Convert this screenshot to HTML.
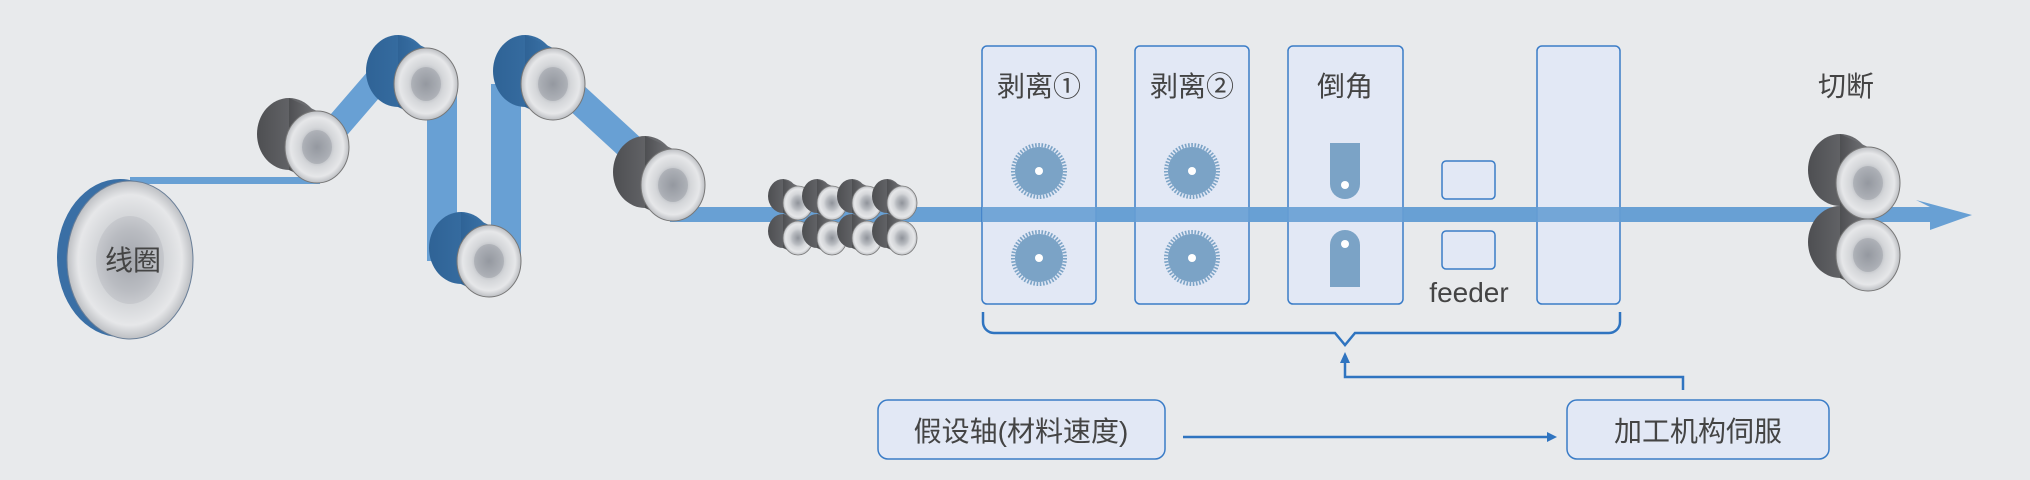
<!DOCTYPE html>
<html><head><meta charset="utf-8"><style>
html,body{margin:0;padding:0;background:#e8eaec;}
svg{display:block;}
text{font-family:"Liberation Sans","Noto Sans CJK SC",sans-serif;fill:#444;}
</style></head><body>
<svg width="2030" height="480" viewBox="0 0 2030 480" xmlns="http://www.w3.org/2000/svg">
<defs>
<radialGradient id="metal" cx="50%" cy="50%" r="55%">
<stop offset="0" stop-color="#8f939a"/>
<stop offset="0.35" stop-color="#b9bcc1"/>
<stop offset="0.5" stop-color="#d4d6d9"/>
<stop offset="0.75" stop-color="#e6e7e9"/>
<stop offset="1" stop-color="#a5a8ad"/>
</radialGradient>
<linearGradient id="gray" x1="0" x2="1" y1="0" y2="0">
<stop offset="0" stop-color="#4e4f52"/><stop offset="1" stop-color="#747579"/>
</linearGradient>
<linearGradient id="blue" x1="0" x2="1" y1="0" y2="0">
<stop offset="0" stop-color="#2f6396"/><stop offset="1" stop-color="#3b73a8"/>
</linearGradient>
<g id="roll">
<ellipse cx="-28" cy="-13" rx="32" ry="36"/>
<polygon points="-28,-49 0,-36 0,36 -28,23"/>
<ellipse cx="0" cy="0" rx="32" ry="36" fill="url(#metal)" stroke="#777" stroke-width="1"/>
<ellipse cx="0" cy="0" rx="15" ry="17" fill="#9a9ea5" opacity="0.5"/>
</g>
<g id="small">
<ellipse cx="-15" cy="-7" rx="15" ry="17" fill="url(#gray)"/>
<polygon points="-15,-24 0,-17 0,17 -15,10" fill="url(#gray)"/>
<ellipse cx="0" cy="0" rx="15" ry="17" fill="url(#metal)" stroke="#777" stroke-width="0.8"/>
</g>
</defs>

<!-- strips -->
<g fill="#68a0d4">
<rect x="130" y="177" width="190" height="7"/>
<line x1="330" y1="135" x2="393" y2="62" stroke="#68a0d4" stroke-width="26"/>
<rect x="427" y="84" width="30" height="177"/>
<rect x="491" y="84" width="30" height="177"/>
<line x1="568" y1="90" x2="655" y2="170" stroke="#68a0d4" stroke-width="28"/>
</g>

<!-- coil -->
<ellipse cx="120" cy="258" rx="63" ry="79" fill="#3a6fa5"/>
<ellipse cx="130" cy="260" rx="63" ry="79" fill="url(#metal)" stroke="#6a7f98" stroke-width="1"/>
<ellipse cx="130" cy="260" rx="34" ry="44" fill="#b9bcc1" opacity="0.5"/>
<text x="133" y="270" font-size="28" text-anchor="middle">线圈</text>

<!-- main strip -->
<rect x="670" y="207" width="1260" height="15" fill="#68a0d4"/>

<!-- rollers -->
<use href="#roll" x="317" y="147" fill="url(#gray)"/>
<use href="#roll" x="426" y="84" fill="url(#blue)"/>
<use href="#roll" x="489" y="261" fill="url(#blue)"/>
<use href="#roll" x="553" y="84" fill="url(#blue)"/>
<use href="#roll" x="673" y="185" fill="url(#gray)"/>

<!-- boxes -->
<g fill="#e1e8f6" fill-opacity="0.9" stroke="#3a7cc7" stroke-width="1.5">
<rect x="982" y="46" width="114" height="258" rx="5"/>
<rect x="1135" y="46" width="114" height="258" rx="5"/>
<rect x="1288" y="46" width="115" height="258" rx="5"/>
<rect x="1537" y="46" width="83" height="258" rx="5"/>
<rect x="1442" y="161" width="53" height="38" rx="4"/>
<rect x="1442" y="231" width="53" height="38" rx="4"/>
<rect x="878" y="400" width="287" height="59" rx="10"/>
<rect x="1567" y="400" width="262" height="59" rx="10"/>
</g>

<rect x="982" y="207" width="948" height="15" fill="#68a0d4" opacity="0.9"/>
<polygon points="1916,200 1972,215 1930,230 1930,222 1925,222 1925,207 1930,207" fill="#68a0d4"/>

<!-- small rollers -->
<use href="#small" x="798" y="238"/><use href="#small" x="832" y="238"/><use href="#small" x="867" y="238"/><use href="#small" x="902" y="238"/>
<use href="#small" x="798" y="203"/><use href="#small" x="832" y="203"/><use href="#small" x="867" y="203"/><use href="#small" x="902" y="203"/>

<!-- saws -->
<g fill="#7ba3c6">
<g transform="translate(1039,171)"><circle r="24"/><circle r="26" fill="none" stroke="#7ba3c6" stroke-width="4" stroke-dasharray="1.6 1.6"/><circle r="4" fill="#fff"/></g>
<g transform="translate(1039,258)"><circle r="24"/><circle r="26" fill="none" stroke="#7ba3c6" stroke-width="4" stroke-dasharray="1.6 1.6"/><circle r="4" fill="#fff"/></g>
<g transform="translate(1192,171)"><circle r="24"/><circle r="26" fill="none" stroke="#7ba3c6" stroke-width="4" stroke-dasharray="1.6 1.6"/><circle r="4" fill="#fff"/></g>
<g transform="translate(1192,258)"><circle r="24"/><circle r="26" fill="none" stroke="#7ba3c6" stroke-width="4" stroke-dasharray="1.6 1.6"/><circle r="4" fill="#fff"/></g>
<path d="M1330,143 H1360 V184 A15,15 0 0 1 1330,184 Z"/>
<path d="M1330,287 H1360 V245 A15,15 0 0 0 1330,245 Z"/>
</g>
<circle cx="1345" cy="185" r="4" fill="#fff"/>
<circle cx="1345" cy="244" r="4" fill="#fff"/>

<!-- cut rollers -->
<use href="#roll" x="1868" y="255" fill="url(#gray)"/>
<use href="#roll" x="1868" y="183" fill="url(#gray)"/>
<rect x="1900" y="207" width="30" height="15" fill="#68a0d4"/>

<!-- labels -->
<g font-size="28" text-anchor="middle">
<text x="1039" y="96">剥离①</text>
<text x="1192" y="96">剥离②</text>
<text x="1345" y="96">倒角</text>
<text x="1846" y="96">切断</text>
<text x="1469" y="302">feeder</text>
<text x="1021" y="441">假设轴(材料速度)</text>
<text x="1698" y="441">加工机构伺服</text>
</g>

<!-- brace & connectors -->
<g fill="none" stroke="#2f74c0" stroke-width="2.5">
<path d="M983,312 V322 A11,11 0 0 0 994,333 H1335 L1345,345 L1355,333 H1609 A11,11 0 0 0 1620,322 V312"/>
<path d="M1683,390 V377 H1345 V360"/>
<path d="M1183,437 H1550"/>
</g>
<polygon points="1345,352 1340,363 1350,363" fill="#2f74c0"/>
<polygon points="1557,437 1547,432 1547,442" fill="#2f74c0"/>
</svg>
</body></html>
